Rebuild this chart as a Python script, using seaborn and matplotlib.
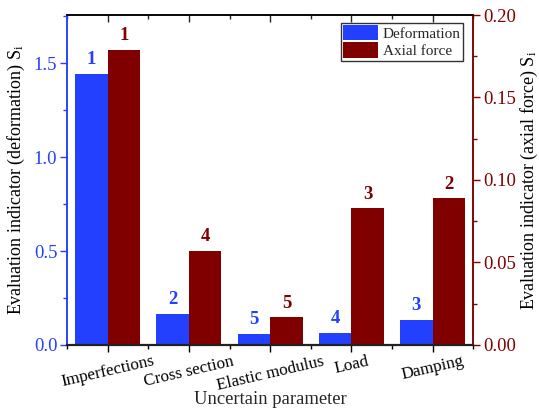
import numpy as np
import pandas as pd
import matplotlib
matplotlib.use("Agg")
import matplotlib.pyplot as plt
import seaborn as sns
from matplotlib.ticker import MultipleLocator, FormatStrFormatter
from matplotlib.patches import Patch

# Data
params = ["Imperfections", "Cross section", "Elastic modulus", "Load", "Damping"]
deformation = [1.443, 0.165, 0.060, 0.065, 0.133]
axial_force = [0.1788, 0.057, 0.0168, 0.0828, 0.089]
rank_deformation = ["1", "2", "5", "4", "3"]
rank_axial = ["1", "4", "5", "3", "2"]
series = ["Deformation", "Axial force"]

blue = "#2340ff"
red = "#800000"

sns.set_theme(style="ticks")
plt.rcParams["font.family"] = ["Liberation Serif", "DejaVu Serif"]
plt.rcParams["mathtext.fontset"] = "custom"
plt.rcParams["mathtext.rm"] = "Liberation Serif"
plt.rcParams["mathtext.it"] = "Liberation Serif"

n = len(params)
df_def = pd.DataFrame({
    "param": params * 2,
    "value": deformation + [np.nan] * n,
    "series": [series[0]] * n + [series[1]] * n,
})
df_ax = pd.DataFrame({
    "param": params * 2,
    "value": [np.nan] * n + axial_force,
    "series": [series[0]] * n + [series[1]] * n,
})

fig = plt.figure(figsize=(5.39, 4.11), dpi=100)
ax = fig.add_axes([0.1243, 0.1606, 0.7538, 0.8029])
ax2 = ax.twinx()

palette = {series[0]: blue, series[1]: red}
sns.barplot(data=df_def, x="param", y="value", hue="series", hue_order=series,
            palette=palette, ax=ax, width=0.8, saturation=1, legend=False,
            linewidth=0, edgecolor="none")
sns.barplot(data=df_ax, x="param", y="value", hue="series", hue_order=series,
            palette=palette, ax=ax2, width=0.8, saturation=1, legend=False,
            linewidth=0, edgecolor="none")

ax.set_xlim(-0.5, 4.5)
ax.set_ylim(0, 1.757)
ax2.set_ylim(0, 0.20)

# Rank labels above bars
def label_bars(axis, ranks, color):
    for c in axis.containers:
        hs = [p.get_height() for p in c.patches]
        if all(np.isnan(h) for h in hs):
            continue
        axis.bar_label(c, labels=ranks, padding=4, color=color,
                       fontsize=13.5, fontweight="bold")

label_bars(ax, rank_deformation, blue)
label_bars(ax2, rank_axial, red)

# Axes styling
ax.yaxis.set_major_locator(MultipleLocator(0.5))
ax.yaxis.set_minor_locator(MultipleLocator(0.25))
ax.yaxis.set_major_formatter(FormatStrFormatter("%.1f"))
ax2.yaxis.set_major_locator(MultipleLocator(0.05))
ax2.yaxis.set_minor_locator(MultipleLocator(0.025))
ax2.yaxis.set_major_formatter(FormatStrFormatter("%.2f"))
ax.xaxis.set_minor_locator(MultipleLocator(0.5))

ax.tick_params(axis="y", colors=blue, labelsize=13.5, length=5, width=1, direction="out", pad=2)
ax.tick_params(axis="y", which="minor", colors=blue, length=3, width=1)
ax2.tick_params(axis="y", colors=red, labelsize=13.5, length=5, width=1, direction="out", pad=2)
ax2.tick_params(axis="y", which="minor", colors=red, length=3, width=1)
ax.tick_params(axis="x", which="both", top=False, bottom=True, direction="out",
               length=5, width=1, labelsize=12.3, colors="black", pad=1)
ax.tick_params(axis="x", which="minor", length=3)

for lab in ax.get_xticklabels():
    lab.set_rotation(13)
    lab.set_ha("center")

for a in (ax, ax2):
    for s in a.spines.values():
        s.set_visible(True)
        s.set_linewidth(1.1)
    a.spines["left"].set_color(blue)
    a.spines["right"].set_color(red)
    a.spines["top"].set_color("black")
    a.spines["bottom"].set_color("#222222")
ax2.spines["bottom"].set_linewidth(1.6)

ax.set_xlabel("Uncertain parameter", fontsize=13.4)
ax.set_ylabel("Evaluation indicator (deformation) S$_\\mathrm{i}$", fontsize=13, color="black")
ax2.set_ylabel("Evaluation indicator (axial force) S$_\\mathrm{i}$", fontsize=13, color="black")
ax.xaxis.set_label_coords(0.5, -0.14)
ax.yaxis.set_label_coords(-0.098, 0.5)
ax2.yaxis.set_label_coords(1.113, 0.5)

# Top ticks pointing inward
top = ax.secondary_xaxis("top")
top.set_xticks(range(n))
top.xaxis.set_minor_locator(MultipleLocator(0.5))
top.tick_params(axis="x", which="both", direction="in", labeltop=False, length=5, width=1)
top.tick_params(axis="x", which="minor", length=3)
top.spines["top"].set_visible(False)

# Legend
handles = [Patch(facecolor=blue, edgecolor="none"), Patch(facecolor=red, edgecolor="none")]
leg = ax2.legend(handles, series, loc="upper right", bbox_to_anchor=(0.975, 0.976),
                 fontsize=11, frameon=True, fancybox=False, edgecolor="black",
                 handlelength=2.3, handleheight=1.15, handletextpad=0.3,
                 borderpad=0.15, labelspacing=0.1, borderaxespad=0)
leg.get_frame().set_linewidth(1.0)

fig.savefig("out.png", dpi=100)
